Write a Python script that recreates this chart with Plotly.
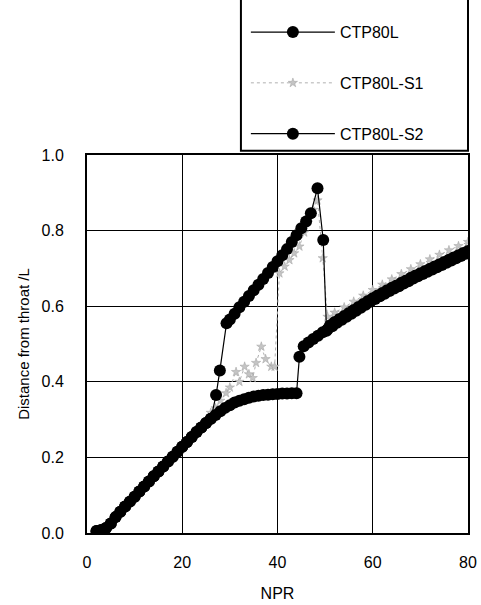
import plotly.graph_objects as go

# ---------------- data ----------------
ctp80l_x = [2, 3, 4, 5, 6, 7, 8, 9, 10, 11, 12, 13, 14, 15, 16, 17, 18, 19, 20,
            21, 22, 23, 24, 25, 26, 27, 28, 29, 30, 31, 32, 33, 34, 35, 36, 37,
            38, 39, 40, 41, 42, 43, 44,
            44.6, 45.5, 46.5, 47.5, 48.5, 49.5, 50.5, 51.5, 52.5, 53.5, 54.5,
            55.5, 56.5, 57.5, 58.5, 59.5, 60.5, 61.5, 62.5, 63.5, 64.5, 65.5,
            66.5, 67.5, 68.5, 69.5, 70.5, 71.5, 72.5, 73.5, 74.5, 75.5, 76.5,
            77.5, 78.5, 79.5, 80]
ctp80l_y = [0.005, 0.008, 0.013, 0.025, 0.042, 0.056, 0.070, 0.083, 0.096, 0.110,
            0.123, 0.136, 0.150, 0.163, 0.176, 0.189, 0.202, 0.215, 0.228, 0.241,
            0.254, 0.267, 0.279, 0.291, 0.302, 0.312, 0.322, 0.331, 0.338, 0.345,
            0.350, 0.354, 0.358, 0.361, 0.363, 0.365, 0.366, 0.367, 0.368, 0.369,
            0.369, 0.370, 0.370,
            0.466, 0.494, 0.504, 0.513, 0.522, 0.531, 0.539, 0.547, 0.556, 0.564,
            0.572, 0.580, 0.588, 0.596, 0.604, 0.612, 0.619, 0.626, 0.633, 0.640,
            0.647, 0.653, 0.660, 0.666, 0.673, 0.679, 0.685, 0.691, 0.697, 0.703,
            0.709, 0.715, 0.721, 0.727, 0.733, 0.739, 0.742]

s1_x = [2, 3, 4, 5, 6, 7, 8, 9, 10, 11, 12, 13, 14, 15, 16, 17, 18, 19, 20,
        21, 22, 23, 24, 25, 26, 27, 28, 29.2, 30, 31.3, 32, 33.1, 34, 34.8,
        35.5, 36.6, 37.5, 38.7, 39.4, 40.4, 41.5, 42.5, 43.5, 44.6, 45.6, 46.7,
        47.5, 48.4, 49.5, 50.5, 52, 54, 56, 58, 60, 62, 64, 66, 68, 70, 72, 74,
        76, 78, 80]
s1_y = [0.005, 0.008, 0.013, 0.025, 0.042, 0.056, 0.070, 0.083, 0.096, 0.110,
        0.123, 0.136, 0.150, 0.163, 0.176, 0.189, 0.202, 0.215, 0.228, 0.241,
        0.254, 0.267, 0.279, 0.293, 0.318, 0.33, 0.35, 0.37, 0.385, 0.426, 0.40,
        0.44, 0.42, 0.41, 0.45, 0.493, 0.46, 0.44, 0.44, 0.687, 0.705, 0.722,
        0.740, 0.758, 0.795, 0.835, 0.855, 0.88, 0.727, 0.572, 0.583, 0.597,
        0.612, 0.628, 0.643, 0.657, 0.671, 0.685, 0.698, 0.711, 0.724, 0.736,
        0.748, 0.759, 0.770]

s2_x = [2, 3, 4, 5, 6, 7, 8, 9, 10, 11, 12, 13, 14, 15, 16, 17, 18, 19, 20,
        21, 22, 23, 24, 25, 26, 27.1, 27.9, 29.3, 30, 31, 32, 33, 34, 35, 36,
        37, 38, 39, 40, 41, 42, 43, 44, 45, 46, 47, 48.4, 49.6, 50.3, 51, 52,
        53, 54, 55, 56, 57, 58, 59, 60, 61, 62, 63, 64, 65, 66, 67, 68, 69, 70,
        71, 72, 73, 74, 75, 76, 77, 78, 79, 80]
s2_y = [0.005, 0.008, 0.013, 0.025, 0.042, 0.056, 0.070, 0.083, 0.096, 0.110,
        0.123, 0.136, 0.150, 0.163, 0.176, 0.189, 0.202, 0.215, 0.228, 0.241,
        0.254, 0.267, 0.279, 0.291, 0.302, 0.365, 0.43, 0.555, 0.565, 0.58,
        0.597, 0.612, 0.627, 0.642, 0.657, 0.672, 0.688, 0.704, 0.719, 0.735,
        0.751, 0.770, 0.788, 0.806, 0.824, 0.846, 0.912, 0.775, 0.535, 0.549,
        0.558, 0.566, 0.574, 0.582, 0.590, 0.598, 0.606, 0.614, 0.621, 0.628,
        0.635, 0.642, 0.649, 0.655, 0.662, 0.668, 0.675, 0.681, 0.687, 0.693,
        0.699, 0.705, 0.711, 0.717, 0.723, 0.729, 0.735, 0.741, 0.746]

x_ticks = [0, 20, 40, 60, 80]
y_ticks = [0.0, 0.2, 0.4, 0.6, 0.8, 1.0]

FONT = "Arial, Liberation Sans, sans-serif"

fig = go.Figure()
fig.add_trace(go.Scatter(
    x=s1_x, y=s1_y, name="CTP80L-S1", mode="lines+markers",
    line=dict(color="#b0b0b0", width=1, dash="dot"),
    marker=dict(color="#c4c4c4", size=7, symbol="star",
                line=dict(color="#a0a0a0", width=0.5)),
    legendgroup="b", legendrank=2))
fig.add_trace(go.Scatter(
    x=ctp80l_x, y=ctp80l_y, name="CTP80L", mode="lines+markers",
    line=dict(color="black", width=1.2),
    marker=dict(color="black", size=12, symbol="circle"),
    legendgroup="a", legendrank=1))
fig.add_trace(go.Scatter(
    x=s2_x, y=s2_y, name="CTP80L-S2", mode="lines+markers",
    line=dict(color="black", width=1.2),
    marker=dict(color="black", size=12, symbol="circle"),
    legendgroup="c", legendrank=3))

fig.update_layout(
    width=481, height=605,
    margin=dict(l=87, r=13, t=155, b=72, autoexpand=False),
    paper_bgcolor="white", plot_bgcolor="white",
    font=dict(family=FONT, size=16, color="black"),
    showlegend=True,
    legend=dict(
        x=0.417, y=1.37, xanchor="left", yanchor="top",
        bgcolor="rgba(0,0,0,0)", borderwidth=0,
        traceorder="grouped", tracegroupgap=27, itemwidth=84,
        font=dict(family=FONT, size=16, color="black"),
    ),
    shapes=[dict(type="rect", xref="paper", yref="paper",
                 x0=0.404, x1=1.0, y0=1.011, y1=1.5,
                 line=dict(color="black", width=2), fillcolor="white",
                 layer="below")],
)
fig.update_xaxes(
    range=[0, 80], tickvals=x_ticks, tickformat="d",
    showgrid=True, gridcolor="black", gridwidth=1.4,
    showline=True, linecolor="black", linewidth=2, mirror=True,
    zeroline=False, ticks="", ticklabelstandoff=14,
    tickfont=dict(size=16),
    title=dict(text="NPR", font=dict(size=16), standoff=18),
)
fig.update_yaxes(
    range=[0, 1.0], tickvals=y_ticks, tickformat=".1f",
    showgrid=True, gridcolor="black", gridwidth=1.4,
    showline=True, linecolor="black", linewidth=2, mirror=True,
    zeroline=False, ticks="", ticklabelstandoff=18,
    tickfont=dict(size=16),
    title=dict(text="Distance from throat /L", font=dict(size=15), standoff=8),
)

fig.write_html("out.html")
